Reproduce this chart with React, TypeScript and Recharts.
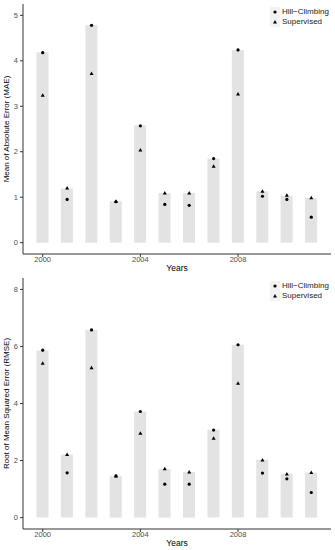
import { ComposedChart, Bar, Line, XAxis, YAxis, Legend } from "recharts";

const years = ["2000", "2001", "2002", "2003", "2004", "2005", "2006", "2007", "2008", "2009", "2010", "2011"];

const maeBar = [4.19, 1.19, 4.78, 0.91, 2.58, 1.09, 1.09, 1.85, 4.24, 1.13, 1.03, 0.98];
const maeHC = [4.18, 0.95, 4.78, 0.9, 2.57, 0.84, 0.82, 1.85, 4.24, 1.02, 0.95, 0.56];
const maeSup = [3.24, 1.2, 3.72, 0.91, 2.04, 1.09, 1.09, 1.68, 3.27, 1.13, 1.04, 0.99];

const rmseBar = [5.86, 2.21, 6.58, 1.46, 3.72, 1.7, 1.6, 3.08, 6.06, 2.03, 1.54, 1.58];
const rmseHC = [5.87, 1.57, 6.58, 1.46, 3.72, 1.17, 1.17, 3.07, 6.06, 1.56, 1.36, 0.88];
const rmseSup = [5.41, 2.21, 5.25, 1.46, 2.96, 1.71, 1.6, 2.78, 4.71, 2.02, 1.53, 1.58];

const maeTicks = [0, 1, 2, 3, 4, 5];
const rmseTicks = [0, 2, 4, 6, 8];

const FONT = "'Liberation Sans', Arial, sans-serif";
const AXIS = "#333333";
const TICK = "#4d4d4d";

function circleDot(props: any) {
  const { cx, cy, index } = props;
  if (cx == null || cy == null) return <g key={`c${index}`} />;
  return <circle key={`c${index}`} cx={cx} cy={cy} r={1.6} fill="#000" />;
}

function triangleDot(props: any) {
  const { cx, cy, index } = props;
  if (cx == null || cy == null) return <g key={`t${index}`} />;
  const s = 2;
  return (
    <path
      key={`t${index}`}
      d={`M${cx},${cy - s} L${cx + s},${cy + s * 0.75} L${cx - s},${cy + s * 0.75} Z`}
      fill="#000"
    />
  );
}

function KeyLegend() {
  const row = (label: string, tri: boolean) => (
    <div style={{ display: "flex", alignItems: "center", height: 10 }}>
      <svg width={10} height={10} style={{ display: "block" }}>
        <rect x={0} y={0} width={10} height={10} fill="#f2f2f2" />
        {tri ? <path d="M5,3 L7,6.5 L3,6.5 Z" fill="#000" /> : <circle cx={5} cy={5} r={1.6} fill="#000" />}
      </svg>
      <span style={{ fontSize: 8, marginLeft: 2, color: "#1a1a1a", lineHeight: "10px" }}>{label}</span>
    </div>
  );
  return (
    <div style={{ fontFamily: FONT }}>
      {row("Hill\u2212Climbing", false)}
      {row("Supervised", true)}
    </div>
  );
}

type PanelProps = {
  top: number;
  height: number;
  bars: number[];
  hc: number[];
  sup: number[];
  domain: [number, number];
  ticks: number[];
  title: string;
};

function Panel({ top, height, bars, hc, sup, domain, ticks, title }: PanelProps) {
  const data = years.map((year, i) => ({ year, bar: bars[i], hc: hc[i], sup: sup[i] }));
  return (
    <div style={{ position: "absolute", left: 0, top }}>
      <ComposedChart width={335} height={height} data={data} margin={{ top: 4, right: 4, bottom: 0, left: 0 }}>
        <XAxis
          dataKey="year"
          interval={3}
          padding={{ left: 7.5, right: 7.5 }}
          height={21}
          tickSize={3}
          tickMargin={0}
          axisLine={{ stroke: AXIS }}
          tickLine={{ stroke: AXIS }}
          tick={{ fontSize: 7.5, fill: TICK, fontFamily: FONT }}
          label={{ value: "Years", position: "insideBottom", offset: 4, fontSize: 8.5, fill: "#000", fontFamily: FONT }}
        />
        <YAxis
          type="number"
          domain={domain}
          ticks={ticks}
          allowDataOverflow
          width={23}
          tickSize={3}
          tickMargin={2}
          axisLine={{ stroke: AXIS }}
          tickLine={{ stroke: AXIS }}
          tick={{ fontSize: 7.5, fill: TICK, fontFamily: FONT }}
          label={{
            value: title,
            angle: -90,
            position: "insideLeft",
            offset: 6,
            fontSize: 8,
            fill: "#000",
            fontFamily: FONT,
            style: { textAnchor: "middle" },
          }}
        />
        <Bar dataKey="bar" fill="#e3e3e3" barSize={12} isAnimationActive={false} legendType="none" />
        <Line dataKey="hc" stroke="none" dot={circleDot} activeDot={false} isAnimationActive={false} legendType="none" />
        <Line dataKey="sup" stroke="none" dot={triangleDot} activeDot={false} isAnimationActive={false} legendType="none" />
        <Legend
          layout="vertical"
          align="center"
          verticalAlign="middle"
          content={() => <KeyLegend />}
          wrapperStyle={{ position: "absolute", top: 7, left: 270, width: 65 }}
        />
      </ComposedChart>
    </div>
  );
}

export default function App() {
  return (
    <div style={{ position: "absolute", left: 0, top: 0, width: 335, height: 550, background: "#fff", fontFamily: FONT }}>
      <Panel top={0} height={275} bars={maeBar} hc={maeHC} sup={maeSup} domain={[-0.25, 5.25]} ticks={maeTicks} title="Mean of Absolute Error (MAE)" />
      <Panel top={274} height={276} bars={rmseBar} hc={rmseHC} sup={rmseSup} domain={[-0.4, 8.4]} ticks={rmseTicks} title="Root of Mean Squared Error (RMSE)" />
    </div>
  );
}
